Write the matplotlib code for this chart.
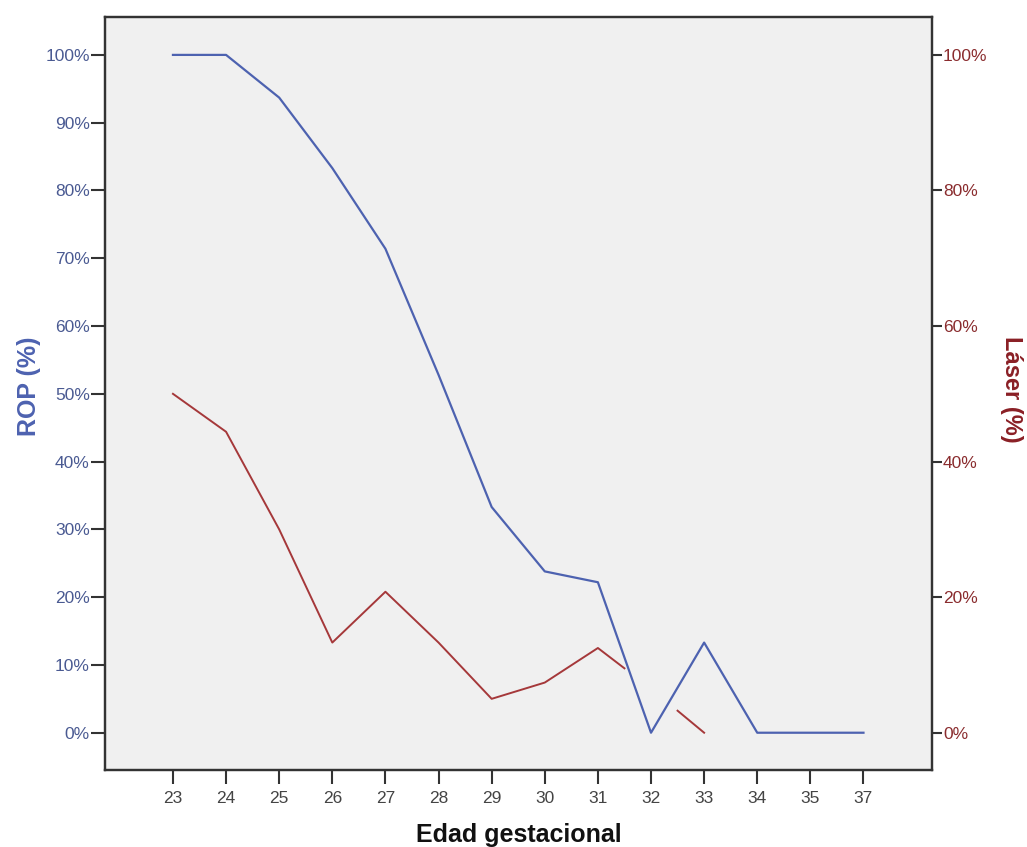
import numpy as np
import matplotlib
matplotlib.use('Agg')
import matplotlib.pyplot as plt

plt.rcParams['font.family'] = ['Liberation Sans', 'DejaVu Sans']

edad = ['23', '24', '25', '26', '27', '28', '29', '30', '31', '32', '33', '34', '35', '37']
rop = [100, 100, 93.7, 83.3, 71.4, 52.8, 33.3, 23.8, 22.2, 0, 13.3, 0, 0, 0]
laser = [50, 44.4, 30, 13.3, 20.8, 13.3, 5, 7.4, 12.5, 6.5, 0, np.nan, np.nan, np.nan]
# the point at 32 is not drawn, only the half segments leading to it
laser_oculto = ['32']

blue = '#4d62b0'
red = '#a5383a'

fig = plt.figure(figsize=(10.27, 8.47), dpi=100)
ax = fig.add_axes([0.1022, 0.0909, 0.8053, 0.8891])
ax.set_facecolor('#f0f0f0')
ax2 = ax.twinx()

x = np.arange(len(edad))
ax.plot(x, rop, color=blue, lw=1.6, zorder=3)

# red line, split around the hidden point
lx = list(x.astype(float))
ly = list(laser)
px, py = [], []
for i in range(len(lx)):
    if edad[i] in laser_oculto:
        # midpoints toward neighbours, with a break in between
        px += [(lx[i-1] + lx[i]) / 2, np.nan, (lx[i] + lx[i+1]) / 2]
        py += [(ly[i-1] + ly[i]) / 2, np.nan, (ly[i] + ly[i+1]) / 2]
    else:
        px.append(lx[i])
        py.append(ly[i])
ax2.plot(px, py, color=red, lw=1.4, zorder=3)

for a in (ax, ax2):
    a.set_ylim(-5.5, 105.6)
    a.set_xlim(-1.28, 14.29)

ax.set_xticks(x)
ax.set_xticklabels(edad)
ax.set_yticks(np.arange(0, 101, 10))
ax.set_yticklabels([f'{v}%' for v in range(0, 101, 10)])
ax2.set_yticks(np.arange(0, 101, 20))
ax2.set_yticklabels([f'{v}%' for v in range(0, 101, 20)])

ax.tick_params(axis='y', colors='#333333', labelcolor='#4a5a92', labelsize=12.5, length=10, width=1.5, pad=1)
ax.tick_params(axis='x', colors='#333333', labelcolor='#444444', labelsize=12.5, length=10, width=1.5, pad=5)
ax2.tick_params(axis='y', colors='#333333', labelcolor='#8a2c2e', labelsize=12.5, length=7, width=1.5, pad=1)

for a in (ax, ax2):
    for s in a.spines.values():
        s.set_color('#333333')
        s.set_linewidth(1.6)

ax.set_xlabel('Edad gestacional', fontsize=18, fontweight='bold', color='#111111', labelpad=12)
ax.set_ylabel('ROP (%)', fontsize=18, fontweight='bold', color=blue)
ax.yaxis.set_label_coords(-0.077, 0.51)
ax2.set_ylabel('Láser (%)', fontsize=17, fontweight='bold', color='#8a1f25', rotation=-90)
ax2.yaxis.set_label_coords(1.11, 0.505)

fig.savefig('out.png', dpi=100)
